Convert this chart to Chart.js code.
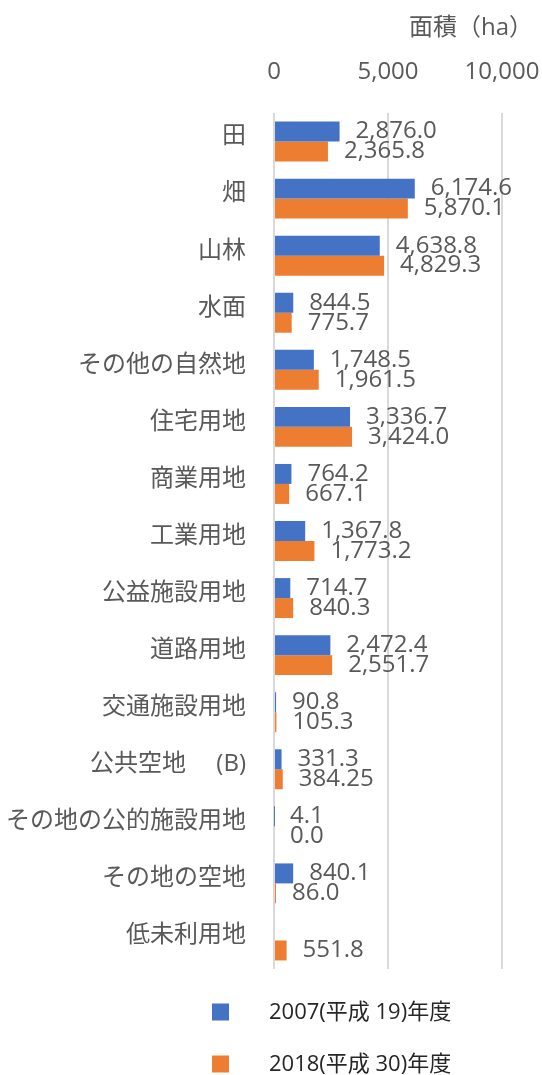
<!DOCTYPE html>
<html>
<head>
<meta charset="utf-8">
<script src="https://cdn.jsdelivr.net/npm/chart.js@4/dist/chart.umd.min.js"></script>
<style>
  html, body { margin: 0; padding: 0; background: #fff; }
  #wrap { width: 542px; height: 1075px; }
</style>
</head>
<body>
<div id="wrap"><canvas id="landChart"></canvas></div>
<script>
const categories = ['田', '畑', '山林', '水面', 'その他の自然地', '住宅用地', '商業用地', '工業用地',
    '公益施設用地', '道路用地', '交通施設用地', '公共空地　 (B)', 'その地の公的施設用地', 'その地の空地', '低未利用地'];
const values2007 = [2876.0, 6174.6, 4638.8, 844.5, 1748.5, 3336.7, 764.2, 1367.8, 714.7, 2472.4, 90.8, 331.3, 4.1, 840.1, null];
const values2018 = [2365.8, 5870.1, 4829.3, 775.7, 1961.5, 3424.0, 667.1, 1773.2, 840.3, 2551.7, 105.3, 384.25, 0.0, 86.0, 551.8];
const seriesNames = ['2007(平成 19)年度', '2018(平成 30)年度'];
const seriesColors = ['#4472C4', '#ED7D31'];
const xTicks = [0, 5000, 10000];
const axisTitle = '面積（ha）';

const FONT = '"Open Sans", "Noto Sans CJK JP", sans-serif';
const GRAY = '#595959';

let fmt = v => v.toLocaleString('en-US', { minimumFractionDigits: 1, maximumFractionDigits: 2 });

// value labels at the end of each bar
const barLabels = {
    id: 'barLabels',
    afterDatasetsDraw(chart) {
        let ctx = chart.ctx;
        ctx.save();
        ctx.font = '24px ' + FONT;
        ctx.fillStyle = GRAY;
        ctx.textAlign = 'left';
        ctx.textBaseline = 'middle';
        chart.data.datasets.forEach((ds, i) => {
            chart.getDatasetMeta(i).data.forEach((bar, j) => {
                if (ds.data[j] == null) return;
                ctx.fillText(fmt(ds.data[j]), bar.x + 16, bar.y);
            });
        });
        ctx.restore();
    }
};

// axis title and the vertical legend below the plot
const extras = {
    id: 'extras',
    afterDraw(chart) {
        let ctx = chart.ctx;
        let area = chart.chartArea;
        ctx.save();
        ctx.font = '24px ' + FONT;
        ctx.fillStyle = GRAY;
        ctx.textAlign = 'right';
        ctx.textBaseline = 'middle';
        ctx.fillText(axisTitle, area.right + 31, 28);

        ctx.font = '22px ' + FONT;
        ctx.textAlign = 'left';
        chart.data.datasets.forEach((ds, i) => {
            let y = area.bottom + 43 + i * 52;
            ctx.fillStyle = ds.backgroundColor;
            ctx.fillRect(212, y - 8.5, 17, 17);
            ctx.fillStyle = '#262626';
            ctx.fillText(ds.label, 269, y + 1);
        });
        ctx.restore();
    }
};

let ctx1 = document.getElementById('landChart').getContext('2d');
let landChart = new Chart(ctx1, {
    type: 'bar',
    data: {
        labels: categories,
        datasets: [{
            label: seriesNames[0],
            data: values2007,
            backgroundColor: seriesColors[0],
            categoryPercentage: 0.7,
            barPercentage: 1.0
        }, {
            label: seriesNames[1],
            data: values2018,
            backgroundColor: seriesColors[1],
            categoryPercentage: 0.7,
            barPercentage: 1.0
        }]
    },
    options: {
        indexAxis: 'y',
        responsive: true,
        maintainAspectRatio: false,
        animation: false,
        layout: {
            padding: { left: 4, right: 40, top: 58, bottom: 106 }
        },
        scales: {
            x: {
                position: 'top',
                min: 0,
                max: 10000,
                afterBuildTicks: s => { s.ticks = xTicks.map(v => ({ value: v })); },
                afterFit: s => { s.height = 55; s.paddingLeft = 0; s.paddingRight = 0; },
                grid: { color: '#d9d9d9', lineWidth: 2, drawTicks: false },
                border: { display: false },
                ticks: {
                    padding: 26,
                    color: GRAY,
                    font: { family: FONT, size: 24 },
                    callback: v => v.toLocaleString('en-US')
                }
            },
            y: {
                afterFit: s => { s.width = 270; s.paddingTop = 0; s.paddingBottom = 0; },
                grid: { display: false, drawTicks: false },
                border: { display: false },
                ticks: {
                    padding: 28,
                    labelOffset: -5,
                    color: GRAY,
                    font: { family: FONT, size: 24 }
                }
            }
        },
        plugins: {
            legend: { display: false },
            tooltip: { enabled: false }
        }
    },
    plugins: [barLabels, extras]
});
</script>
</body>
</html>
